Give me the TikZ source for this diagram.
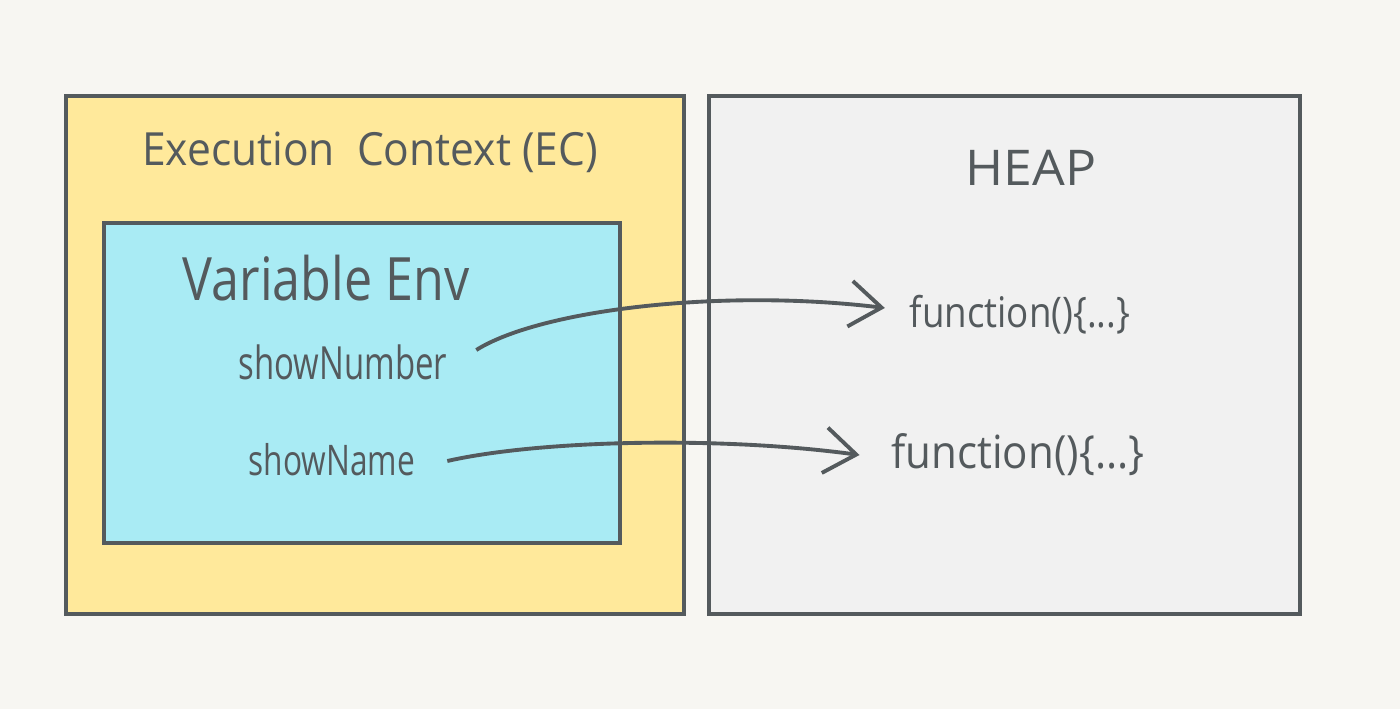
\documentclass[tikz,border=0pt]{standalone}
\usepackage{fontspec}
\setmainfont{Open Sans}
\usetikzlibrary{arrows.meta,positioning}
\definecolor{paper}{HTML}{F7F6F2}
\definecolor{ink}{HTML}{545A5D}
\definecolor{ecfill}{HTML}{FFE99B}
\definecolor{envfill}{HTML}{A9EBF4}
\definecolor{heapfill}{HTML}{F1F1F1}

\begin{document}
\begin{tikzpicture}[x=0.01cm,y=-0.01cm,
    box/.style={draw=ink,line width=1.1pt},
    lbl/.style={text=ink,inner sep=1pt,transform shape},
    link/.style={draw=ink,line width=1.1pt,-{Straight Barb[length=9pt,width=13pt,line width=1.1pt]}}]
   \fill[paper] (0,0) rectangle (1400,709);
   \useasboundingbox (0,0) rectangle (1400,709);
   % boxes
   \draw[box,fill=ecfill] (66,96) rectangle (684,614);
   \draw[box,fill=envfill] (104,223) rectangle (620,543);
   \draw[box,fill=heapfill] (709,96) rectangle (1300,614);
   % labels
   \node[lbl,xscale=0.93,font=\fontsize{13}{15}\selectfont] (ec) at (370,152) {Execution\ \ Context (EC)};
   \node[lbl,xscale=1.05,font=\fontsize{14}{16}\selectfont] (heap) at (1031,168) {HEAP};
   \node[lbl,xscale=0.84,font=\fontsize{17}{19}\selectfont] (env) at (326,278) {Variable Env};
   \node[lbl,xscale=0.72,font=\fontsize{13}{15}\selectfont] (shownumber) at (343,362) {showNumber};
   \node[lbl,xscale=0.75,font=\fontsize{12}{14}\selectfont] (showname) at (332,460) {showName};
   \node[lbl,xscale=0.87,font=\fontsize{12}{14}\selectfont] (fa) at (1020,315) {function()\{...\}};
   \node[lbl,xscale=0.92,font=\fontsize{13}{15}\selectfont] (fb) at (1018,455) {function()\{...\}};
   % pointers
   \draw[link] (shownumber.east) ++(26,-12) .. controls (540,310) and (720,288) .. ([xshift=-6pt,yshift=2pt]fa.west);
   \draw[link] (showname.east) ++(29,1) .. controls (540,440) and (720,436) .. ([xshift=-8pt]fb.west);
\end{tikzpicture}
\end{document}
